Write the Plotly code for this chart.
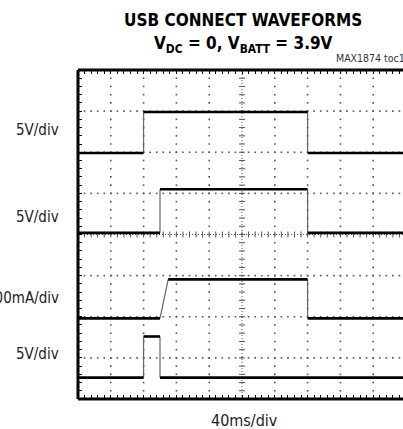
import plotly.graph_objects as go

# ---- data (oscilloscope capture, time in ms) ----
ch1_t = [0, 80, 80, 280, 280, 400]
ch1_v = [0, 0, 5.0, 5.0, 0, 0]          # volts
ch2_t = [0, 100, 100, 280, 280, 400]
ch2_v = [0, 0, 5.3, 5.3, 0, 0]          # volts
ch3_t = [0, 100, 110, 280, 280, 400]
ch3_v = [0, 0, 475, 475, 0, 0]          # mA
ch4_t = [0, 80, 80, 100, 100, 400]
ch4_v = [0, 0, 5.0, 5.0, 0, 0]          # volts

channel_labels = ["5V/div", "5V/div", "500mA/div", "5V/div"]
channel_scales = [5, 5, 500, 5]          # units per division
channel_offsets = [5.98, 4.04, 1.96, 0.52]  # baseline position in divisions
label_pos = [6.53, 4.43, 2.46, 1.09]
time_per_div = 40  # ms
n_xdiv, n_ydiv = 10, 8

FONT = "Liberation Sans Narrow, DejaVu Sans Condensed, Liberation Sans, sans-serif"

fig = go.Figure()

# dotted graticule (dots every 1/5 division along each grid line)
gx, gy = [], []
for i in range(1, n_xdiv):
    if i == n_xdiv // 2:
        continue
    for k in range(0, n_ydiv * 5 + 1):
        gx.append(i)
        gy.append(k * 0.2)
for j in range(1, n_ydiv):
    if j == n_ydiv // 2:
        continue
    for k in range(0, n_xdiv * 5 + 1):
        gx.append(k * 0.2)
        gy.append(j)
fig.add_trace(go.Scatter(x=gx, y=gy, mode="markers",
                         marker=dict(symbol="square", size=1.6, color="#555",
                                     line=dict(width=0)),
                         hoverinfo="skip", showlegend=False))

channels = [(ch1_t, ch1_v), (ch2_t, ch2_v), (ch3_t, ch3_v), (ch4_t, ch4_v)]
for (t, v), sc, off in zip(channels, channel_scales, channel_offsets):
    xs = [ti / time_per_div for ti in t]
    ys = [off + vi / sc for vi in v]
    fx, fy, ex, ey = [], [], [], []
    for i in range(len(xs) - 1):
        if v[i] == v[i + 1]:
            fx += [xs[i], xs[i + 1], None]
            fy += [ys[i], ys[i + 1], None]
        else:
            ex += [xs[i], xs[i + 1], None]
            ey += [ys[i], ys[i + 1], None]
    fig.add_trace(go.Scatter(x=ex, y=ey, mode="lines",
                             line=dict(color="#666", width=1.2),
                             hoverinfo="skip", showlegend=False))
    fig.add_trace(go.Scatter(x=fx, y=fy, mode="lines",
                             line=dict(color="black", width=2.6),
                             hoverinfo="skip", showlegend=False))

# center cross graticule with tick marks
shapes = []
shapes.append(dict(type="line", xref="x", yref="y", x0=5, x1=5, y0=0, y1=8,
                   line=dict(color="#555", width=1, dash="1px,2px"), layer="below"))
shapes.append(dict(type="line", xref="x", yref="y", x0=0, x1=10, y0=4, y1=4,
                   line=dict(color="#555", width=1, dash="1px,2px"), layer="below"))
for k in range(1, 40):
    yy = k * 0.2
    shapes.append(dict(type="line", xref="x", yref="y", xsizemode="pixel",
                       xanchor=5, x0=-3, x1=3, y0=yy, y1=yy,
                       line=dict(color="#555", width=1), layer="below"))
for k in range(1, 50):
    xx = k * 0.2
    shapes.append(dict(type="line", xref="x", yref="y", ysizemode="pixel",
                       yanchor=4, y0=-3, y1=3, x0=xx, x1=xx,
                       line=dict(color="#555", width=1), layer="below"))
# border (left, top, bottom)
shapes.append(dict(type="line", xref="paper", yref="paper", x0=0, x1=0, y0=0, y1=1,
                   line=dict(color="black", width=3)))
shapes.append(dict(type="line", xref="paper", yref="paper", x0=0, x1=1, y0=1, y1=1,
                   line=dict(color="black", width=3)))
shapes.append(dict(type="line", xref="paper", yref="paper", x0=0, x1=1, y0=0, y1=0,
                   line=dict(color="black", width=3)))

annotations = []
for lab, yp in zip(channel_labels, label_pos):
    annotations.append(dict(text=lab, xref="paper", yref="y", x=(61 - 78) / 325, y=yp,
                            xanchor="right", yanchor="middle", showarrow=False,
                            font=dict(family=FONT, size=15, color="#222")))
annotations.append(dict(text="<b>USB CONNECT WAVEFORMS</b>", xref="paper", yref="paper",
                        x=(243 - 78) / 325, y=1 + (70 - 20) / 329, xanchor="center",
                        yanchor="middle", showarrow=False,
                        font=dict(family=FONT, size=17, color="black")))
annotations.append(dict(text="<b>V<sub>DC</sub> = 0, V<sub>BATT</sub> = 3.9V</b>",
                        xref="paper", yref="paper",
                        x=(243 - 78) / 325, y=1 + (70 - 45) / 329, xanchor="center",
                        yanchor="middle", showarrow=False,
                        font=dict(family=FONT, size=17, color="black")))
annotations.append(dict(text="MAX1874 toc17", xref="paper", yref="paper",
                        x=(334 - 78) / 325, y=1 + (70 - 58) / 329, xanchor="left",
                        yanchor="middle", showarrow=False,
                        font=dict(family=FONT, size=10.5, color="#333")))
annotations.append(dict(text="40ms/div", xref="paper", yref="paper",
                        x=(244 - 78) / 325, y=-(420 - 399) / 329, xanchor="center",
                        yanchor="middle", showarrow=False,
                        font=dict(family=FONT, size=16, color="#222")))

fig.update_layout(
    width=403, height=429,
    margin=dict(l=78, r=0, t=70, b=30),
    paper_bgcolor="white", plot_bgcolor="white",
    shapes=shapes, annotations=annotations,
    xaxis=dict(range=[0, 10 * 325 / 328], tick0=0, dtick=1, showgrid=False,
               showticklabels=False, zeroline=False, showline=False,
               ticks="inside", ticklen=4, tickcolor="black", mirror="allticks",
               minor=dict(dtick=0.2, ticks="inside", ticklen=4, tickcolor="black",
                          showgrid=False)),
    yaxis=dict(range=[0, 8], tick0=0, dtick=1, showgrid=False,
               showticklabels=False, zeroline=False, showline=False,
               ticks="inside", ticklen=4, tickcolor="black",
               minor=dict(dtick=0.2, ticks="inside", ticklen=4, tickcolor="black",
                          showgrid=False)),
)

fig.write_html("out.html", config={"displayModeBar": False},
               post_script="document.body.style.margin='0px';document.body.style.overflow='hidden';")
